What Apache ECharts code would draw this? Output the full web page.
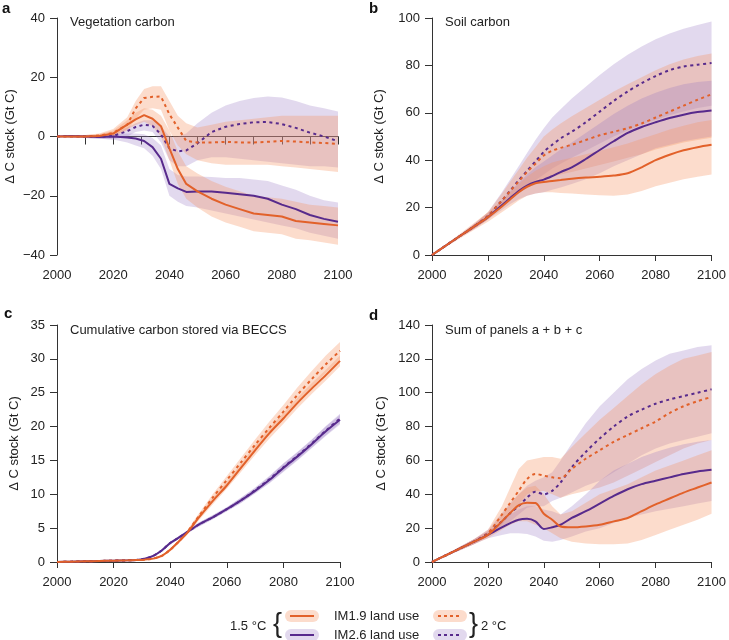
<!DOCTYPE html>
<html><head><meta charset="utf-8">
<script src="https://cdn.jsdelivr.net/npm/echarts@6/dist/echarts.min.js"></script>
<style>html,body{margin:0;padding:0;background:#fff}#c{width:729px;height:640px}</style>
</head><body><div id="c"></div>
<script>
// ---------- data ----------
const years = [2000,2005,2010,2015,2020,2025,2028,2031,2034,2037,2040,2043,2046,2050,2055,2060,2065,2070,2075,2080,2085,2090,2095,2100];

// Panel a: vegetation carbon
const aO15 = [0,0,0,0.2,1,4,5.8,7.2,6,3.5,-4,-11,-16,-18.5,-21,-23,-24.5,-26,-26.5,-27,-28.5,-29,-29.5,-30];
const aO15lo = [0,-0.3,-0.5,-0.5,0,2.5,3.8,5,3.5,0,-8,-16,-21,-24,-27,-29,-30.5,-32,-32.5,-33,-34.5,-35,-35.8,-36.5];
const aO15hi = [0,0.3,0.5,0.8,2,5.5,8,9.5,9,7,2,-5,-10,-12.5,-15,-17,-18.5,-20,-20.5,-21,-22,-23,-23.5,-24];
const aP15 = [0,0.2,0,-0.2,0,-0.3,-0.7,-1.5,-3.6,-7.5,-16,-17.5,-18.7,-18.6,-18.6,-19,-19.5,-20,-21,-23,-24.5,-26.5,-27.8,-28.8];
const aP15lo = [0,-0.3,-0.5,-0.8,-1,-2,-3,-4,-6.5,-11,-20,-22,-23.5,-24,-25,-26,-27,-28,-29,-30,-31,-32.5,-33.5,-34.5];
const aP15hi = [0,0.5,0.5,0.5,0.8,1,1,0.8,-0.5,-3,-11,-13,-13.5,-13.5,-13.7,-14,-14,-14.5,-15,-16.5,-18,-20,-21.5,-22.3];
const aO2 = [0,0,0,0.3,1.2,4,9.5,13,13.4,13.5,7.5,3,-1.5,-2,-2,-1.8,-2,-2,-1.8,-1.5,-1.7,-2,-2.2,-2.5];
const aO2lo = [0,-0.3,-0.5,-0.3,0,2,6,9,9.5,9,2,-3,-6,-8,-9,-9.5,-9.5,-9.5,-9.5,-10,-10.5,-11,-11.5,-12];
const aO2hi = [0,0.3,0.5,1,2.5,6.5,12,16,17,17,12,7,4.5,3,4,5,5.5,6,6.5,7,7,7,7,7];
const aP2 = [0,0.2,0,-0.2,0.2,1.8,3.2,4,3.6,0.7,-4,-5,-4.7,-2.3,1.5,3.3,4.2,4.8,4.9,4.2,2.9,1.3,0,-1.6];
const aP2lo = [0,-0.3,-0.5,-0.8,-1,0,1.5,2,1.5,-2,-8,-10,-10,-8,-7,-7,-7.5,-8,-8.5,-9,-9.5,-10,-10,-10.5];
const aP2hi = [0,0.5,0.5,0.5,1,3,4.5,5.5,5.5,3.5,0,0,1,4.5,8,10.5,12,13,13.5,13.2,12,10.5,9.5,8.4];

// Panel b: soil carbon
const bO15 = [0,4,8,12,16,20.5,23.5,26.5,28.8,30.3,30.8,31.2,31.6,32.2,32.7,33,33.5,34.5,37,40,42.3,44.2,45.5,46.5];
const bO15lo = [0,3.5,7,10.5,14,18,20.5,23,25,26,26.5,26.5,26.2,26,25.5,25.2,25,25.5,27,29,30.5,32,33,34];
const bO15hi = [0,4.5,9,13.5,18,23,26.5,30,33,35.5,37.5,39,40,41,42.5,44,45.5,47,49,51,53,54.5,56,57];
const bP15 = [0,4,8,12,16,21,24,27,29.3,30.8,31.8,33.3,35,37,40.5,44.3,48,51.5,54,56,57.8,59.2,60.3,61];
const bP15lo = [0,3.5,7.5,11,15,19,21.5,23.5,25,26,26.5,27.5,28.5,30,32,34.5,37.5,40,42.5,45,46.5,48,49,50];
const bP15hi = [0,4.5,8.5,13,17.5,23,27,30.5,34,37,39.5,42,44.5,47.5,51.5,55.5,59.5,63,66,68.5,70.5,72,73,73.5];
const bO2 = [0,4,8,12,16.5,23,27,31,35,38.5,42,44,45.2,46.5,48.5,50.5,52,53.5,55.5,58,60.5,63,65.5,67.8];
const bO2lo = [0,3.5,7.5,11,15,20,23,26,28.5,30.5,32,33,34,35,36.5,38,39.5,41,42.5,44.5,46,47.5,48.5,49.5];
const bO2hi = [0,4.5,8.5,13,18,26,31,36,41,45.5,50,53,55.5,58.5,62,65.5,69,72,75,78,80.5,82.5,84,85];
const bP2 = [0,4,8,12,16.5,23,27.2,31.5,35.5,39.5,43.5,46.5,49.2,52,56,60.5,65,69,72.5,75.5,78,79.5,80.3,81];
const bP2lo = [0,3.5,7.5,11,15,20,23,26,29,31.5,34,36.5,38.5,41,44,47,50,52.5,55,57,59,60.5,62,63];
const bP2hi = [0,4.5,8.5,13,18,26.5,32,37.5,43,48.5,53.5,58,61.5,66,71,76,80.5,84.5,88,91,93.5,95.5,97,98.5];

// Panel c: cumulative carbon stored via BECCS
const cO15 = [0,0.05,0.1,0.15,0.2,0.25,0.3,0.35,0.5,0.9,1.8,3,4.3,6.5,9,11.3,13.9,16.5,19,21.2,23.5,25.6,27.6,29.7];
const cO15lo = [0,0.05,0.1,0.15,0.2,0.25,0.3,0.35,0.45,0.8,1.6,2.8,4.0,6.1,8.5,10.8,13.3,15.8,18.2,20.4,22.7,24.8,26.8,28.9];
const cO15hi = [0,0.05,0.1,0.15,0.2,0.25,0.3,0.35,0.55,1.0,2.0,3.2,4.6,6.9,9.5,11.8,14.5,17.2,19.8,22.0,24.3,26.4,28.4,30.5];
const cP15 = [0,0.05,0.1,0.15,0.2,0.25,0.3,0.5,0.9,1.7,2.8,3.6,4.4,5.5,6.6,7.8,9.1,10.5,12.1,13.9,15.6,17.4,19.3,21];
const cP15lo = [0,0.05,0.1,0.15,0.2,0.25,0.3,0.45,0.8,1.5,2.6,3.4,4.2,5.2,6.3,7.5,8.7,10.1,11.6,13.3,15.0,16.8,18.6,20.3];
const cP15hi = [0,0.05,0.1,0.15,0.2,0.25,0.3,0.55,1.0,1.9,3.0,3.8,4.6,5.8,6.9,8.1,9.5,10.9,12.6,14.5,16.2,18.0,20.0,21.7];
const cO2 = [0,0.05,0.1,0.15,0.2,0.25,0.3,0.35,0.5,0.9,1.8,3,4.4,6.7,9.5,12.1,14.7,17.3,19.8,22.2,24.7,27,29.2,31.2];
const cO2lo = [0,0.05,0.1,0.15,0.2,0.25,0.3,0.35,0.45,0.8,1.6,2.8,4.1,6.3,9.0,11.5,14.0,16.5,18.9,21.2,23.6,25.8,27.9,29.9];
const cO2hi = [0,0.05,0.1,0.15,0.2,0.25,0.3,0.35,0.55,1.0,2.0,3.2,4.7,7.1,10.0,12.7,15.4,18.1,20.7,23.2,25.8,28.2,30.5,32.5];
const cP2 = [0,0.05,0.1,0.15,0.2,0.25,0.3,0.5,0.9,1.7,2.8,3.6,4.4,5.5,6.6,7.8,9.1,10.6,12.2,14.0,15.7,17.5,19.4,21.2];
const cP2lo = [0,0.05,0.1,0.15,0.2,0.25,0.3,0.45,0.8,1.5,2.6,3.4,4.2,5.2,6.3,7.5,8.7,10.2,11.7,13.4,15.1,16.9,18.7,20.5];
const cP2hi = [0,0.05,0.1,0.15,0.2,0.25,0.3,0.55,1.0,1.9,3.0,3.8,4.6,5.8,6.9,8.1,9.5,11.0,12.7,14.6,16.3,18.1,20.1,21.9];

// Panel d: sum of panels a + b + c
const dO15 = [0,4,8,12,16,24,29,33.5,35,34.8,28.5,25,21,20.5,21,22,24,26,30,34,37.5,41,44,47];
const dO15lo = [0,3.5,7,10.5,14,19,22,24,24,22,20,17,14,12,11,10.5,10.5,11,13,16,19,22,25,28.5];
const dO15hi = [0,4.5,9,13.5,18,28,34,40,44,45,40,33,28,30,35,40,43,46,50,54,57,60,63,66];
const dP15 = [0,4,8,12,16,20.5,23,25,25.5,24,19.5,20.5,22,26,30,34.5,39,43,46,48,50,52,53.5,54.5];
const dP15lo = [0,3.5,7,10.5,14,16,17,17,16.5,15,12.5,12,13,15,18,20,23,26,28,30,31.5,33,34.5,36];
const dP15hi = [0,4.5,9,13.5,18,24,28,31,33,33,31,30,28,33,40,48,54,58,62,65,67.5,69.5,71,72];
const dO2 = [0,4,8,12,17,28,35,42,49,52,51,50,49.5,55,61,66,71,75,79,83,88,92,95,97.5];
const dO2lo = [0,3.5,7,10.5,15,22,28,34,40,42,42,40,38,40,42,44,47,51,55,59,63,67,70,72];
const dO2hi = [0,4.5,9,13.5,19,33,44,55,60,61,62,62,61,68,76,84,91,98,105,111,116,120,122,124];
const dP2 = [0,4,8,12,17,24,29,33,38,41.5,40,42,47,56,65,73,80,86,90,93.5,96,98,100,102];
const dP2lo = [0,3.5,7,10.5,15,20,24,28,32,33,33,36,38,41,45,48,53,58,63,67,70,72,74,76];
const dP2hi = [0,4.5,9,13.5,19,29,35,40,45,48,50,53,60,70,82,92,100,108,114,119,123,125,127,128];

// text
const panelLabels = ['a','b','c','d'];
const panelTitles = ['Vegetation carbon','Soil carbon','Cumulative carbon stored via BECCS','Sum of panels a + b + c'];
const yName = 'Δ C stock (Gt C)';
const legendNames = ['IM1.9 land use','IM2.6 land use'];

// ---------- styles ----------
const ORANGE = '#e2612a', PURPLE = '#572a8c';
const OFILL = 'rgba(245,150,100,0.33)', PFILL = 'rgba(150,120,195,0.28)';
const FONT = 'Liberation Sans, Arial, sans-serif';
const TXT = '#222';

const pairs = (ys) => years.map((y,i)=>[y, ys[i]]);

let series = [];
function bandSeries(xi, yi, lo, hi, fill){
  return {type:'custom', xAxisIndex:xi, yAxisIndex:yi, silent:true, z:1,
    data: years.map((y,i)=>[y, lo[i], hi[i]]),
    encode:{x:0, y:[1,2]},
    renderItem: function(params, api){
      if (params.dataIndex !== 0) return null;
      const pts = [];
      for (let i=0;i<years.length;i++) pts.push(api.coord([years[i], hi[i]]));
      for (let i=years.length-1;i>=0;i--) pts.push(api.coord([years[i], lo[i]]));
      return {type:'polygon', shape:{points:pts}, style:{fill:fill}};
    }};
}
function addPanel(xi, yi, sets, smooth){
  sets.forEach(s=>series.push(bandSeries(xi, yi, s.lo, s.hi, s.fill)));
  sets.forEach(s=>{
    series.push({type:'line', xAxisIndex:xi, yAxisIndex:yi, data:pairs(s.mean), symbol:'none', smooth:smooth,
      lineStyle:{color:s.color, width:2, type: s.dashed ? [3,3.5] : 'solid'}, z:3, silent:true});
  });
}
function sets(O15,O15lo,O15hi,P15,P15lo,P15hi,O2,O2lo,O2hi,P2,P2lo,P2hi){
  return [
    {mean:P2, lo:P2lo, hi:P2hi, color:PURPLE, fill:PFILL, dashed:true},
    {mean:O2, lo:O2lo, hi:O2hi, color:ORANGE, fill:OFILL, dashed:true},
    {mean:P15, lo:P15lo, hi:P15hi, color:PURPLE, fill:PFILL, dashed:false},
    {mean:O15, lo:O15lo, hi:O15hi, color:ORANGE, fill:OFILL, dashed:false},
  ];
}
addPanel(0,0,sets(aO15,aO15lo,aO15hi,aP15,aP15lo,aP15hi,aO2,aO2lo,aO2hi,aP2,aP2lo,aP2hi), false);
addPanel(2,1,sets(bO15,bO15lo,bO15hi,bP15,bP15lo,bP15hi,bO2,bO2lo,bO2hi,bP2,bP2lo,bP2hi), 0.3);
addPanel(3,2,sets(cO15,cO15lo,cO15hi,cP15,cP15lo,cP15hi,cO2,cO2lo,cO2hi,cP2,cP2lo,cP2hi), 0.3);
addPanel(4,3,sets(dO15,dO15lo,dO15hi,dP15,dP15lo,dP15hi,dO2,dO2lo,dO2hi,dP2,dP2lo,dP2hi), 0.3);

const axLine = {show:true, lineStyle:{color:'#333', width:1}};
const lab = {color:TXT, fontSize:13, fontFamily:FONT};
const minusFmt = v => String(v).replace('-', '\u2212');

function xAx(grid, extra){
  return Object.assign({type:'value', gridIndex:grid, min:2000, max:2100, interval:20,
    axisLine:axLine, axisTick:{show:true, length:6, lineStyle:{color:'#333'}},
    axisLabel:Object.assign({margin:14, showMaxLabel:true, showMinLabel:true, formatter:v=>String(v)}, lab),
    splitLine:{show:false}}, extra||{});
}
function yAx(grid, min, max, interval, gap){
  return {type:'value', gridIndex:grid, min:min, max:max, interval:interval,
    axisLine:axLine, axisTick:{show:true, length:7, lineStyle:{color:'#333'}},
    axisLabel:Object.assign({margin:12, formatter:minusFmt}, lab), splitLine:{show:false},
    name:yName, nameLocation:'middle', nameGap:gap, nameRotate:90,
    nameTextStyle:{color:TXT, fontSize:13, fontFamily:FONT}};
}

const graphics = [];
const pl = [[2,8],[369,8],[4,313],[369,315]];
panelLabels.forEach((t,i)=>graphics.push({type:'text', left:pl[i][0], top:pl[i][1]-7,
  style:{text:t, font:'bold 15px '+FONT, fill:'#111'}}));
const tp = [[70,22],[445,22],[70,330],[445,330]];
panelTitles.forEach((t,i)=>graphics.push({type:'text', x:tp[i][0], y:tp[i][1],
  style:{text:t, font:'13px '+FONT, fill:TXT, verticalAlign:'middle'}}));

// legend
function swatch(x, y, fill, color, dashed){
  graphics.push({type:'rect', shape:{x:x, y:y-6, width:34, height:12, r:6}, style:{fill:fill}});
  graphics.push({type:'line', shape:{x1:x+5, y1:y, x2:x+29, y2:y},
    style:{stroke:color, lineWidth:2, lineDash: dashed ? [3,3] : null}});
}
swatch(285, 616, OFILL, ORANGE, false);
swatch(285, 635, PFILL, PURPLE, false);
swatch(433, 616, OFILL, ORANGE, true);
swatch(433, 635, PFILL, PURPLE, true);
graphics.push({type:'text', x:334, y:616, style:{text:legendNames[0], font:'13px '+FONT, fill:TXT, verticalAlign:'middle'}});
graphics.push({type:'text', x:334, y:635, style:{text:legendNames[1], font:'13px '+FONT, fill:TXT, verticalAlign:'middle'}});
graphics.push({type:'text', x:230, y:626, style:{text:'1.5 °C', font:'13px '+FONT, fill:TXT, verticalAlign:'middle'}});
graphics.push({type:'text', x:273, y:625, style:{text:'{', font:'200 27px '+FONT, fill:TXT, verticalAlign:'middle'}});
graphics.push({type:'text', x:469, y:625, style:{text:'}', font:'200 27px '+FONT, fill:TXT, verticalAlign:'middle'}});
graphics.push({type:'text', x:481, y:626, style:{text:'2 °C', font:'13px '+FONT, fill:TXT, verticalAlign:'middle'}});

const option = {
  animation:false,
  backgroundColor:'#fff',
  grid:[
    {left:57, top:18, width:281, height:237},
    {left:432, top:18, width:280, height:237},
    {left:57, top:325, width:283, height:237},
    {left:432, top:325, width:282, height:237}
  ],
  xAxis:[
    xAx(0, {position:'bottom', axisLine:{show:false, onZero:false}, axisTick:{show:false}}),
    {type:'value', gridIndex:0, min:2000, max:2100, interval:10, position:'top',
      axisLine:{show:true, onZero:true, onZeroAxisIndex:0, lineStyle:{color:'#333', width:1}},
      axisTick:{show:true, inside:true, length:8, lineStyle:{color:'#333'}},
      axisLabel:{show:false}, splitLine:{show:false}},
    xAx(1), xAx(2), xAx(3)
  ],
  yAxis:[
    yAx(0,-40,40,20,40),
    yAx(1,0,100,20,46),
    yAx(2,0,35,5,36),
    yAx(3,0,140,20,44)
  ],
  series:series,
  graphic:graphics
};
const ch = echarts.init(document.getElementById('c'), null, {renderer:'canvas'});
ch.setOption(option);
</script></body></html>
